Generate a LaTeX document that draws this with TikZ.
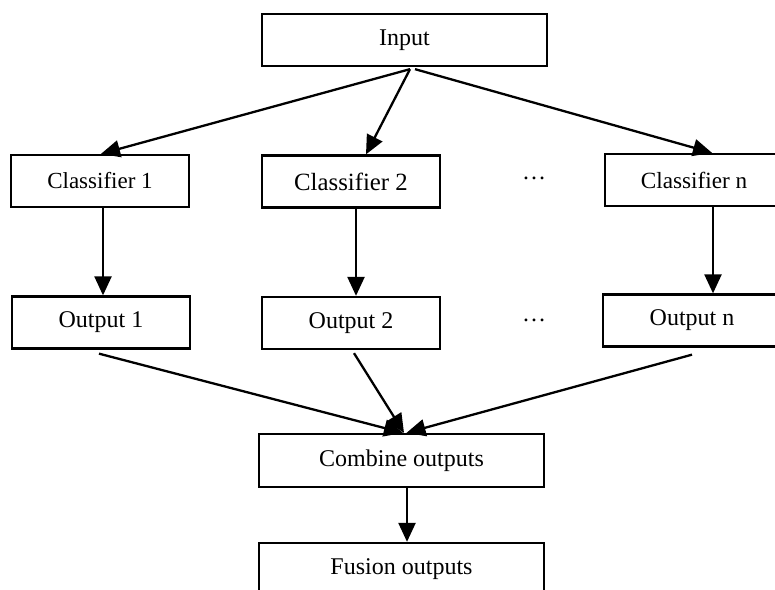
\documentclass[tikz,border=0pt]{standalone}
\usepackage{fontspec}
\setmainfont{Liberation Serif}
\usetikzlibrary{arrows.meta}
\begin{document}
\begin{tikzpicture}[x=1pt,y=-1pt,line width=2.3pt,
  box/.style={draw,minimum width=178pt,minimum height=52pt,inner sep=0pt,font=\fontsize{24}{28}\selectfont},
  wide/.style={box,minimum width=285pt},
  arr/.style={-{Triangle[length=19pt,width=17pt]}}]
\useasboundingbox (0,0) rectangle (775,589);
%\draw[help lines,step=50] (0,0) grid (775,589);
\node[wide] (In) at (404.5,40) {Input};
\node[box,font=\fontsize{23}{28}\selectfont] (C1) at (100,181) {Classifier 1};
\node[box,font=\fontsize{24.8}{28}\selectfont] (C2) at (351,181.5) {Classifier 2};
\node[box,font=\fontsize{23.2}{28}\selectfont] (Cn) at (694,180) {Classifier n};
\node[font=\fontsize{24}{28}\selectfont] (D1) at (534,178) {…};
\node[box] (O1) at (101,322.5) {Output 1};
\node[box] (O2) at (351,323) {Output 2};
\node[box] (On) at (692,320.5) {Output n};
\node[font=\fontsize{24}{28}\selectfont] (D2) at (534,320) {…};
\node[wide,minimum height=53pt] (Cb) at (401.5,460.5) {Combine outputs};
\node[wide,minimum height=53pt] (Fu) at (401.5,569.5) {Fusion outputs};
% input to classifiers
\draw[arr] ([xshift=5.5pt,yshift=-2pt]In.south)--([xshift=1pt]C1.north);
\draw[arr] ([xshift=5.5pt,yshift=-2pt]In.south)--([xshift=15pt]C2.north);
\draw[arr] ([xshift=10.5pt,yshift=-2pt]In.south)--([xshift=18pt]Cn.north);
% classifiers to outputs
\draw[arr] ([xshift=3pt]C1.south)--([xshift=2pt]O1.north);
\draw[arr] ([xshift=5pt]C2.south)--([xshift=5pt]O2.north);
\draw[arr] ([xshift=19pt]Cn.south)--([xshift=21pt]On.north);
% outputs to combine
\draw[arr] ([xshift=-2pt,yshift=-4pt]O1.south)--([xshift=1.5pt]Cb.north);
\draw[arr] ([xshift=3pt,yshift=-3pt]O2.south)--([xshift=2.5pt]Cb.north);
\draw[arr] ([yshift=-7pt]On.south)--([xshift=5pt]Cb.north);
\draw[arr] ([xshift=5.5pt]Cb.south)--([xshift=5.5pt]Fu.north);
\end{tikzpicture}
\end{document}
